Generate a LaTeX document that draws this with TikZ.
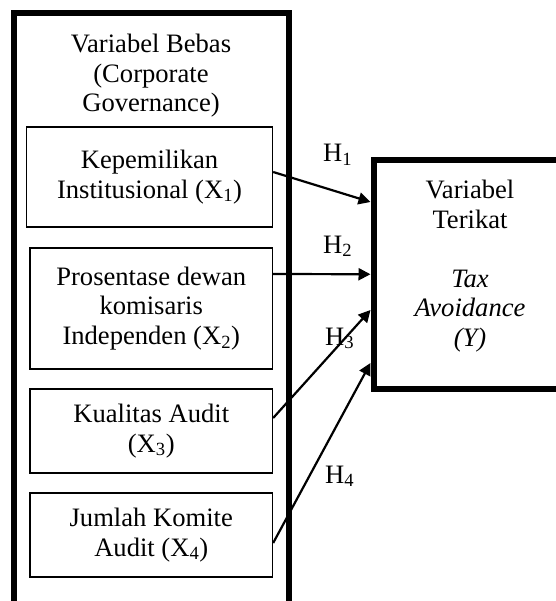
\documentclass[tikz,border=0pt]{standalone}
\usepackage{fontspec}
\setmainfont{Liberation Serif}
\usetikzlibrary{arrows.meta}
\begin{document}
\begin{tikzpicture}[x=1pt,y=-1pt,
  txt/.style={font=\fontsize{26.6}{29.5}\selectfont, align=center, inner sep=0pt},
  thickbox/.style={draw, line width=6pt, inner sep=0pt},
  varbox/.style={draw, line width=1.3pt, inner sep=0pt, font=\fontsize{26.6}{29.5}\selectfont, align=center},
  conn/.style={line width=2.2pt, -{Triangle[length=12pt,width=12pt]}},
  hlab/.style={font=\fontsize{26.6}{29.5}\selectfont, inner sep=0pt, anchor=base west}]
\useasboundingbox (0,0) rectangle (555,601);
% outer boxes
\node[thickbox, minimum width=275pt, minimum height=620pt] (bebas) at (151,323.5) {};
\node[thickbox, minimum width=206.5pt, minimum height=228.5pt] (Y) at (476.75,274.25) {};
\node[txt] (bebastxt) at (151,76) {Variabel Bebas\\(Corporate\\Governance)};
\node[txt] (ytxt) at (470,266) {Variabel\\Terikat\\[29.5pt]\textit{Tax}\\\textit{Avoidance}\\\textit{(Y)}};
% inner boxes
\node[varbox, minimum width=246pt, minimum height=100pt] (x1) at (149.5,177) {Kepemilikan\\Institusional (X\textsubscript{1})};
\node[varbox, minimum width=242.5pt, minimum height=121pt] (x2) at (151.25,308.5) {Prosentase dewan\\komisaris\\Independen (X\textsubscript{2})};
\node[varbox, minimum width=242.5pt, minimum height=84pt] (x3) at (151.25,431) {Kualitas Audit\\(X\textsubscript{3})};
\node[varbox, minimum width=242.5pt, minimum height=84pt] (x4) at (151.25,535) {Jumlah Komite\\Audit (X\textsubscript{4})};
% connectors
\draw[conn] ([yshift=5pt]x1.east) -- ([yshift=72.25pt]Y.west);
\draw[conn] ([yshift=34.5pt]x2.east) -- ([yshift=0pt]Y.west);
\draw[conn] ([yshift=13pt]x3.east) -- ([yshift=-35.75pt]Y.west);
\draw[conn] ([yshift=-8pt]x4.east) -- ([yshift=-88.75pt]Y.west);
% labels
\node[hlab] (h1) at (323,162) {H\textsubscript{1}};
\node[hlab] (h2) at (323,253) {H\textsubscript{2}};
\node[hlab] (h3) at (325,345) {H\textsubscript{3}};
\node[hlab] (h4) at (325,483) {H\textsubscript{4}};
\end{tikzpicture}
\end{document}
